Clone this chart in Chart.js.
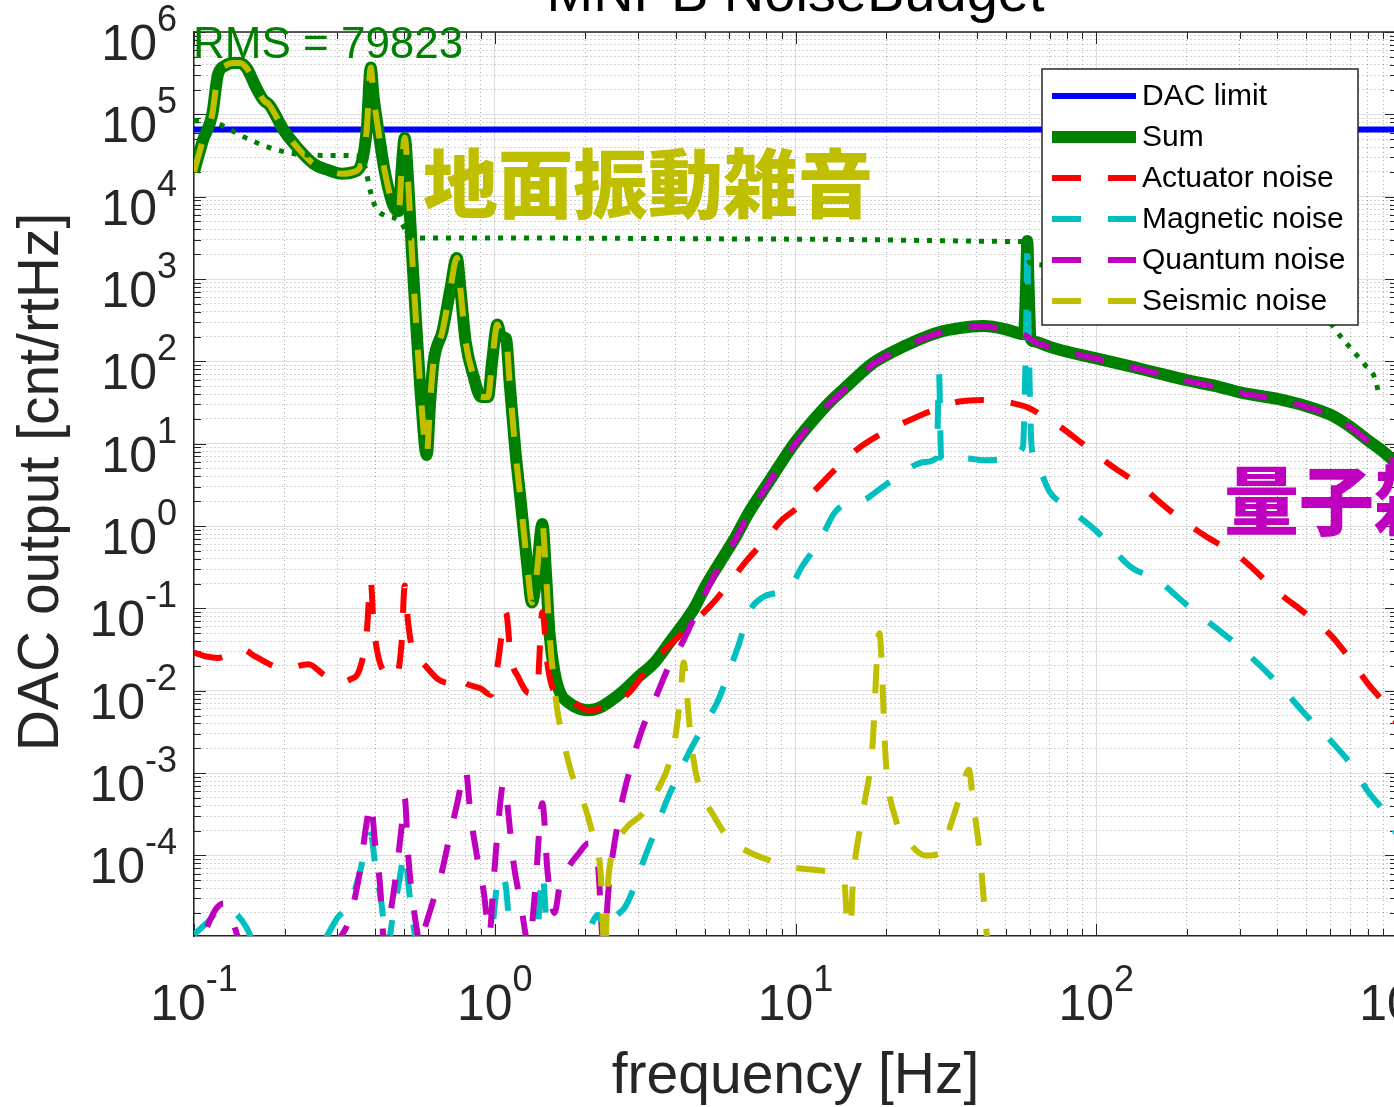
<!DOCTYPE html>
<html>
<head>
<meta charset="utf-8">
<script src="https://cdn.jsdelivr.net/npm/chart.js@4"></script>
<style>
html, body { margin: 0; padding: 0; overflow: hidden; background: #fff; }
canvas { display: block; }
</style>
</head>
<body>
<canvas id="budget" width="1400" height="1107"></canvas>
<script>
// frequency [Hz] / amplitude [cnt/rtHz]
const dacFreq = [0.1, 1000];
const dacLimit = [65536, 65536];

const sumFreq = [
  0.1, 0.107, 0.115, 0.12, 0.127, 0.135, 0.142, 0.15, 0.16, 0.17,
  0.178, 0.2, 0.22, 0.25, 0.28, 0.31, 0.34, 0.36, 0.375, 0.387,
  0.395, 0.41, 0.43, 0.46, 0.48, 0.49, 0.502, 0.515, 0.53, 0.55,
  0.57, 0.594, 0.61, 0.625, 0.67, 0.71, 0.748, 0.77, 0.8, 0.85,
  0.9, 0.95, 0.98, 1.02, 1.05, 1.09, 1.12, 1.17, 1.22, 1.28,
  1.33, 1.38, 1.44, 1.48, 1.52, 1.58, 1.65, 1.75, 1.9, 2.05,
  2.2, 2.4, 2.7, 3.0, 3.4, 3.8, 4.2, 4.6, 5.0, 5.6,
  6.3, 7.0, 8.0, 9.0, 10, 11.5, 13, 15, 18, 21,
  25, 30, 35, 42, 50, 55, 57.5, 58.5, 59, 59.5,
  60.5, 62, 70, 80, 100, 130, 160, 200, 250, 300,
  400, 500, 600, 700, 800, 900, 1000
];
const sumVal = [
  2.0e4, 4.8e4, 1.0e5, 3.0e5, 3.9e5, 4.2e5, 4.2e5, 3.6e5, 2.2e5, 1.5e5,
  1.3e5, 6.2e4, 4.0e4, 2.5e4, 2.1e4, 1.9e4, 2.0e4, 2.5e4, 6.4e4, 3.7e5,
  1.7e5, 6.4e4, 2.1e4, 7.8e3, 6.7e3, 2.1e4, 5.2e4, 1.6e4, 2.2e3, 230,
  32, 7.3, 32, 94, 232, 710, 1800, 710, 175, 66,
  37, 37, 100, 280, 200, 190, 57, 8.5, 2.0, 0.36,
  0.118, 0.27, 1.06, 0.27, 0.051, 0.0167, 0.0094, 0.0073, 0.0061, 0.0058,
  0.0061, 0.0073, 0.0102, 0.0147, 0.022, 0.038, 0.062, 0.1, 0.18, 0.36,
  0.72, 1.46, 3.1, 6.0, 10.5, 19.6, 32, 52, 94, 130,
  176, 226, 253, 268, 245, 220, 214, 950, 2900, 950,
  190, 175, 150, 131, 109, 87, 72, 59, 50, 42,
  35, 28.5, 22.5, 16, 11, 8, 5.7
];

const actFreq = [
  0.1, 0.11, 0.12, 0.135, 0.145, 0.16, 0.2, 0.24, 0.27, 0.3,
  0.33, 0.355, 0.375, 0.387, 0.395, 0.41, 0.44, 0.47, 0.49, 0.502,
  0.515, 0.535, 0.58, 0.65, 0.72, 0.75, 0.8, 0.9, 0.97, 1.02,
  1.09, 1.13, 1.2, 1.3, 1.38, 1.44, 1.5, 1.6, 1.8, 2.05,
  2.4, 2.8, 3.27, 4.2, 5.3, 6.0, 6.9, 8.0, 9.0, 10,
  11.7, 13.5, 16, 19.5, 23.4, 29, 35, 42, 53.5, 60,
  66, 75, 90, 110, 140, 180, 230, 300, 400, 500,
  600, 700, 800, 900, 1000
];
const actVal = [
  0.029, 0.026, 0.025, 0.029, 0.032, 0.026, 0.0185, 0.021, 0.0156, 0.0124,
  0.0137, 0.018, 0.05, 0.22, 0.068, 0.026, 0.0156, 0.0144, 0.038, 0.19,
  0.068, 0.029, 0.021, 0.0137, 0.0123, 0.015, 0.0123, 0.0106, 0.0089, 0.0196,
  0.089, 0.026, 0.0144, 0.0094, 0.0094, 0.09, 0.02, 0.0089, 0.0073, 0.0058,
  0.0066, 0.0095, 0.02, 0.05, 0.115, 0.2, 0.385, 0.7, 1.18, 1.6,
  2.8, 4.8, 8.5, 13.5, 18.6, 26, 32.5, 34, 30.7, 27,
  22, 16.6, 10, 5.7, 3.1, 1.44, 0.76, 0.42, 0.16, 0.085,
  0.048, 0.024, 0.0122, 0.0073, 0.004
];

const magFreq = [
  0.1, 0.11, 0.125, 0.135, 0.15, 0.16, 0.2, 0.27, 0.3, 0.33,
  0.355, 0.375, 0.387, 0.4, 0.42, 0.44, 0.46, 0.48, 0.502, 0.52,
  0.55, 0.6, 0.9, 0.97, 1.02, 1.05, 1.09, 1.13, 1.25, 1.38,
  1.44, 1.5, 1.7, 2.0, 2.2, 2.35, 2.5, 2.7, 2.9, 3.1,
  3.4, 3.7, 4.1, 4.5, 5.0, 5.5, 6.0, 6.5, 7.0, 7.8,
  8.8, 9.6, 10.5, 11.5, 12.5, 13.5, 15, 17, 18.5, 20,
  22, 24, 27, 29.5, 30, 30.5, 33, 37, 42, 47,
  53, 57, 58.5, 59, 59.5, 61, 64, 70, 80, 100,
  130, 160, 200, 250, 300, 400, 500, 600, 700, 800,
  900, 1000
];
const magVal = [
  1.1e-5, 1.5e-5, 2.3e-5, 2.1e-5, 1.3e-5, 7.5e-6, 2e-6, 9e-6, 1.75e-5, 2.6e-5,
  6e-5, 1.4e-4, 1.8e-4, 8e-5, 2.6e-5, 8e-6, 2e-5, 4.6e-5, 1.05e-4, 3.5e-5,
  8e-6, 3e-6, 4e-6, 9e-6, 4.6e-5, 6e-5, 4e-5, 9e-6, 3e-6, 9e-6,
  6e-5, 9e-6, 3e-6, 9e-6, 1.9e-5, 1.1e-5, 1.75e-5, 2.3e-5, 4e-5, 8e-5,
  1.9e-4, 4.3e-4, 1e-3, 2e-3, 4e-3, 7.3e-3, 0.0167, 0.038, 0.089, 0.137,
  0.157, 0.18, 0.32, 0.52, 0.87, 1.46, 1.94, 2.1, 2.6, 3.2,
  4.0, 5.1, 6.0, 6.8, 71, 6.8, 6.0, 6.6, 6.3, 6.4,
  7.3, 9.1, 300, 2900, 300, 9, 5.2, 2.6, 1.7, 0.87,
  0.32, 0.22, 0.11, 0.058, 0.034, 0.0125, 5e-3, 2.5e-3, 1.3e-3, 6e-4,
  3.5e-4, 1.8e-4
];

const quantFreq = [
  0.1, 0.105, 0.11, 0.118, 0.125, 0.133, 0.14, 0.15, 0.25, 0.3,
  0.33, 0.355, 0.375, 0.387, 0.4, 0.415, 0.43, 0.45, 0.47, 0.49,
  0.502, 0.515, 0.53, 0.55, 0.565, 0.585, 0.62, 0.66, 0.7, 0.75,
  0.8, 0.83, 0.87, 0.92, 0.96, 0.99, 1.02, 1.07, 1.1, 1.15,
  1.22, 1.3, 1.36, 1.44, 1.5, 1.58, 1.65, 1.75, 1.9, 2.05,
  2.2, 2.3, 2.4, 2.6, 2.85, 3.1, 3.4, 3.8, 4.2, 4.6,
  5.0, 5.6, 6.3, 7.0, 8.0, 9.0, 10, 11.5, 13, 15,
  18, 21, 25, 30, 35, 42, 50, 57.5, 62, 70,
  80, 100, 130, 160, 200, 250, 300, 400, 500, 600,
  700, 800, 900, 1000
];
const quantVal = [
  3e-6, 8.7e-6, 1.3e-5, 2.2e-5, 2.6e-5, 1.75e-5, 1e-5, 4e-6, 2e-6, 8.7e-6,
  1.75e-5, 6e-5, 2.5e-4, 4.3e-4, 1.4e-4, 4.6e-5, 8e-6, 2e-5, 6e-5, 2.2e-4,
  5e-4, 1.05e-4, 3.5e-5, 1.3e-5, 8e-6, 1.3e-5, 2.6e-5, 5.4e-5, 1.4e-4, 4.3e-4,
  1.1e-3, 3.2e-4, 1.05e-4, 3.5e-5, 1.1e-5, 4.6e-5, 1.8e-4, 7.6e-4, 4.3e-4, 9e-5,
  2.6e-5, 8e-6, 3.5e-5, 4.3e-4, 6e-5, 2e-5, 4.6e-5, 7e-5, 1.05e-4, 1.4e-4,
  8e-5, 8e-6, 4.6e-5, 3.2e-4, 1.3e-3, 3.5e-3, 7.7e-3, 0.02, 0.038, 0.077,
  0.15, 0.33, 0.68, 1.4, 3.0, 5.8, 10, 19, 31, 50,
  91, 127, 172, 222, 250, 265, 243, 212, 175, 150,
  130, 108, 86, 71, 58, 49, 41.5, 34.5, 28, 22,
  15.8, 10.8, 7.9, 5.6
];

const seisFreq = [
  0.1, 0.107, 0.115, 0.12, 0.127, 0.135, 0.142, 0.15, 0.16, 0.17,
  0.178, 0.2, 0.22, 0.25, 0.28, 0.31, 0.34, 0.36, 0.375, 0.387,
  0.395, 0.41, 0.43, 0.46, 0.48, 0.49, 0.502, 0.515, 0.53, 0.55,
  0.57, 0.594, 0.61, 0.625, 0.67, 0.71, 0.748, 0.77, 0.8, 0.85,
  0.9, 0.95, 0.98, 1.02, 1.05, 1.09, 1.12, 1.17, 1.22, 1.28,
  1.33, 1.38, 1.44, 1.48, 1.52, 1.6, 1.7, 1.8, 1.95, 2.05,
  2.15, 2.25, 2.32, 2.38, 2.5, 2.75, 3.1, 3.5, 3.8, 4.0,
  4.15, 4.25, 4.35, 4.5, 4.8, 5.3, 6.0, 7.0, 8.0, 9.3,
  11, 13, 14.5, 15.1, 15.5, 16.5, 18, 19, 20, 21.5,
  24, 27, 30, 33, 35.5, 37.7, 39, 41, 44, 50,
  100, 1000
];
const seisVal = [
  2.0e4, 4.8e4, 1.0e5, 3.0e5, 3.9e5, 4.2e5, 4.2e5, 3.6e5, 2.2e5, 1.5e5,
  1.3e5, 6.2e4, 4.0e4, 2.5e4, 2.1e4, 1.9e4, 2.0e4, 2.5e4, 6.4e4, 3.7e5,
  1.7e5, 6.4e4, 2.1e4, 7.8e3, 6.7e3, 2.1e4, 5.2e4, 1.6e4, 2.2e3, 230,
  32, 7.3, 32, 94, 232, 710, 1800, 710, 175, 66,
  37, 37, 100, 280, 200, 190, 57, 8.5, 2.0, 0.36,
  0.118, 0.27, 1.06, 0.27, 0.051, 0.0073, 0.0023, 1.0e-3, 5e-4, 2.8e-4,
  1.4e-4, 6e-5, 6e-6, 4.6e-5, 1.2e-4, 2.2e-4, 3.2e-4, 6.5e-4, 1.3e-3, 3.0e-3,
  9.4e-3, 0.022, 9.4e-3, 2.3e-3, 6.5e-4, 3.2e-4, 1.6e-4, 1.1e-4, 9e-5, 7.4e-5,
  6.8e-5, 6.4e-5, 5e-5, 6e-6, 4.3e-5, 2.5e-4, 2e-3, 0.05, 1.3e-3, 2.8e-4,
  1.4e-4, 1e-4, 1.05e-4, 2.5e-4, 5.8e-4, 1.1e-3, 4.3e-4, 1.05e-4, 6e-6, 1e-6,
  1e-7, 1e-8
];

// cumulative RMS (dotted), partly hidden behind the legend
const rmsFreq = [0.1, 0.12, 0.13, 0.15, 0.18, 0.22, 0.3, 0.36, 0.375, 0.385,
  0.4, 0.43, 0.47, 0.495, 0.52, 1, 10, 57, 58.5, 60,
  63, 100, 200, 400, 600, 650, 700, 780, 845, 870];
const rmsVal = [8.4e4, 7.7e4, 6.7e4, 5.1e4, 3.9e4, 3.3e4, 3.16e4, 3.1e4, 1.9e4, 1.2e4,
  7.7e3, 5.9e3, 5.4e3, 4.5e3, 3.16e3, 3.15e3, 3.05e3, 2.85e3, 2.8e3, 1.6e3,
  1.5e3, 1.3e3, 900, 520, 290, 200, 145, 92, 62, 40];

const xLabelExp = [-1, 0, 1, 2, 3];
const yLabelExp = [-4, -3, -2, -1, 0, 1, 2, 3, 4, 5, 6];
const rmsLabel = 'RMS = 79823';

const FONT = '"Liberation Sans", Arial, Helvetica, sans-serif';
const INK = '#262626';
const DASH = [29, 27];

function isDecade(v) {
  const l = Math.log10(v);
  return Math.abs(l - Math.round(l)) < 1e-6;
}

function logTicks(lo, hi, min, max) {
  const t = [];
  for (let e = lo; e < hi; e++) {
    for (let k = 1; k < 10; k++) t.push(k * Math.pow(10, e));
  }
  t.push(Math.pow(10, hi));
  return t.filter(v => v >= min * 0.9999 && v <= max * 1.0001).map(v => ({ value: v }));
}

let drawOrder = 20;
function series(label, f, v, color, width, dash) {
  return {
    label: label,
    data: f.map((x, i) => ({ x: x, y: v[i] })),
    borderColor: color,
    borderWidth: width,
    borderDash: dash,
    borderJoinStyle: 'round',
    cubicInterpolationMode: 'monotone',
    pointRadius: 0,
    fill: false,
    clip: 0,
    order: drawOrder--
  };
}

function drawPow(ctx, exp, x, y, align) {
  const base = '50px ' + FONT, sup = '36px ' + FONT;
  ctx.font = base;
  const wb = ctx.measureText('10').width;
  ctx.font = sup;
  const we = ctx.measureText(String(exp)).width;
  const x0 = align === 'right' ? x - wb - we : x - (wb + we) / 2;
  ctx.font = base;
  ctx.fillText('10', x0, y);
  ctx.font = sup;
  ctx.fillText(String(exp), x0 + wb, y - 29);
}

const matlabLook = {
  id: 'matlabLook',
  beforeDatasetsDraw(chart) {
    const { ctx, chartArea: a, scales: { x, y } } = chart;
    ctx.save();
    ctx.strokeStyle = INK;
    ctx.lineWidth = 1;
    ctx.beginPath();
    x.ticks.forEach(t => {
      const p = Math.round(x.getPixelForValue(t.value)) + 0.5;
      const len = isDecade(t.value) ? 12 : 7;
      ctx.moveTo(p, a.bottom); ctx.lineTo(p, a.bottom - len);
      ctx.moveTo(p, a.top); ctx.lineTo(p, a.top + len);
    });
    y.ticks.forEach(t => {
      const p = Math.round(y.getPixelForValue(t.value)) + 0.5;
      const len = isDecade(t.value) ? 12 : 7;
      ctx.moveTo(a.left, p); ctx.lineTo(a.left + len, p);
      ctx.moveTo(a.right, p); ctx.lineTo(a.right - len, p);
    });
    ctx.stroke();
    ctx.lineWidth = 1.5;
    ctx.beginPath();
    ctx.moveTo(a.left, a.top);
    ctx.lineTo(a.right, a.top);
    ctx.lineTo(a.right, a.bottom);
    ctx.stroke();
    ctx.restore();
  },
  afterDatasetsDraw(chart) {
    const ctx = chart.ctx;
    const rows = chart.data.datasets.filter(d => d.label);
    ctx.save();
    // legend box
    ctx.fillStyle = '#fff';
    ctx.fillRect(1042, 69, 316, 256);
    ctx.strokeStyle = INK;
    ctx.lineWidth = 1.5;
    ctx.strokeRect(1042, 69, 316, 256);
    rows.forEach((d, i) => {
      const yy = 96 + i * 41;
      ctx.strokeStyle = d.borderColor;
      ctx.lineWidth = d.borderWidth;
      ctx.setLineDash(d.borderDash.length ? d.borderDash : []);
      ctx.beginPath();
      ctx.moveTo(1052, yy);
      ctx.lineTo(1136, yy);
      ctx.stroke();
      ctx.setLineDash([]);
      ctx.fillStyle = '#000';
      ctx.font = '30px ' + FONT;
      ctx.textBaseline = 'middle';
      ctx.textAlign = 'left';
      ctx.fillText(d.label, 1142, yy + 1);
    });
    // annotations
    ctx.textBaseline = 'alphabetic';
    ctx.font = '44px ' + FONT;
    ctx.fillStyle = 'rgb(0,128,0)';
    ctx.fillText(rmsLabel, 193, 58);
    ctx.textBaseline = 'middle';
    ctx.font = '900 75px "Noto Sans CJK JP"';
    ctx.fillStyle = 'rgb(191,191,0)';
    ctx.fillText('地面振動雑音', 423, 183);
    ctx.fillStyle = 'rgb(191,0,191)';
    ctx.fillText('量子雑音', 1224, 500);
    ctx.restore();
  },
  afterDraw(chart) {
    const { ctx, chartArea: a, scales: { x, y } } = chart;
    ctx.save();
    ctx.fillStyle = INK;
    ctx.textAlign = 'left';
    ctx.textBaseline = 'alphabetic';
    yLabelExp.forEach(e => {
      drawPow(ctx, e, 177, y.getPixelForValue(Math.pow(10, e)) + 28, 'right');
    });
    xLabelExp.forEach(e => {
      drawPow(ctx, e, x.getPixelForValue(Math.pow(10, e)), 1020, 'center');
    });
    ctx.textAlign = 'center';
    ctx.font = '57px ' + FONT;
    ctx.fillText('frequency [Hz]', (a.left + a.right) / 2, 1093);
    ctx.save();
    ctx.translate(58, 482);
    ctx.rotate(-Math.PI / 2);
    ctx.fillText('DAC output [cnt/rtHz]', 0, 0);
    ctx.restore();
    ctx.fillStyle = '#000';
    ctx.font = '56px ' + FONT;
    ctx.fillText('MNPB NoiseBudget', (a.left + a.right) / 2, 11);
    ctx.restore();
  }
};

const gridColor = c => (c.tick && isDecade(c.tick.value)) ? 'rgba(0,0,0,0.13)' : 'rgba(0,0,0,0.33)';
const gridDash = c => (c.type === 'tick' && !isDecade(c.tick.value)) ? [1, 3] : [];

new Chart(document.getElementById('budget'), {
  type: 'line',
  data: {
    datasets: [
      series('DAC limit', dacFreq, dacLimit, 'rgb(0,0,255)', 6, []),
      series('Sum', sumFreq, sumVal, 'rgb(0,128,0)', 12, []),
      series('Actuator noise', actFreq, actVal, 'rgb(255,0,0)', 6, DASH),
      series('Magnetic noise', magFreq, magVal, 'rgb(0,191,191)', 6, DASH),
      series('Quantum noise', quantFreq, quantVal, 'rgb(191,0,191)', 6, DASH),
      series('Seismic noise', seisFreq, seisVal, 'rgb(191,191,0)', 6, DASH),
      series('', rmsFreq, rmsVal, 'rgb(0,128,0)', 5, [5, 8])
    ]
  },
  options: {
    responsive: false,
    animation: false,
    layout: { padding: { left: 194, top: 32, right: 3, bottom: 171 } },
    plugins: { legend: { display: false }, tooltip: { enabled: false }, title: { display: false } },
    scales: {
      x: {
        type: 'logarithmic', min: 0.1, max: 1000,
        afterBuildTicks: s => { s.ticks = logTicks(-1, 3, 0.1, 1000); },
        ticks: { display: false, autoSkip: false },
        grid: { color: gridColor, lineWidth: 1, drawTicks: false },
        border: { display: true, color: INK, width: 1.5, dash: gridDash }
      },
      y: {
        type: 'logarithmic', min: 1.05e-5, max: 1e6,
        afterBuildTicks: s => { s.ticks = logTicks(-5, 6, 1.05e-5, 1e6); },
        ticks: { display: false, autoSkip: false },
        grid: { color: gridColor, lineWidth: 1, drawTicks: false },
        border: { display: true, color: INK, width: 1.5, dash: gridDash }
      }
    }
  },
  plugins: [matlabLook]
});
</script>
</body>
</html>
